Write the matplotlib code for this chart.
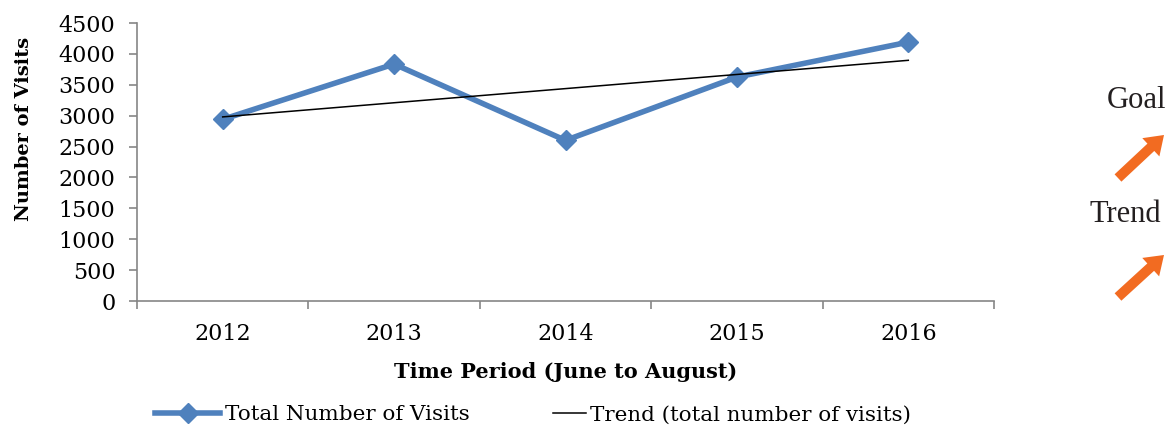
import numpy as np
import matplotlib
matplotlib.use("Agg")
import matplotlib.pyplot as plt
from matplotlib.patches import FancyArrow

years = ["2012", "2013", "2014", "2015", "2016"]
visits = [2940, 3835, 2600, 3625, 4190]

x = np.arange(len(years))
# linear trend over the total visits
slope, intercept = np.polyfit(x, visits, 1)
trend = slope * x + intercept

plt.rcParams["font.family"] = "DejaVu Serif"

fig = plt.figure(figsize=(11.68, 4.29), dpi=100)
ax = fig.add_axes([137 / 1168, 1 - 301 / 429, (994 - 137) / 1168, (301 - 23) / 429])

blue = "#4F81BD"
axis_gray = "#868686"

l1, = ax.plot(x, visits, color=blue, linewidth=4, marker="D", markersize=10,
              label="Total Number of Visits", zorder=3)
l2, = ax.plot(x, trend, color="black", linewidth=1.1,
              label="Trend (total number of visits)", zorder=4)

ax.set_xlim(-0.5, 4.5)
ax.set_ylim(0, 4500)
ax.set_yticks(np.arange(0, 4501, 500))
ax.set_xticks(x)
ax.set_xticklabels(years)
ax.set_xticks(np.arange(-0.5, 4.6, 1), minor=True)

for side in ["top", "right"]:
    ax.spines[side].set_visible(False)
for side in ["left", "bottom"]:
    ax.spines[side].set_color(axis_gray)
    ax.spines[side].set_linewidth(1.2)

ax.tick_params(axis="x", which="major", length=0, pad=16, labelsize=16)
ax.tick_params(axis="x", which="minor", length=5.5, width=1.2, color=axis_gray)
ax.tick_params(axis="y", length=5.5, width=1.2, color=axis_gray, pad=10, labelsize=16)

ax.set_ylabel("Number of Visits", fontweight="bold", fontsize=14)
ax.yaxis.set_label_coords(-0.121, 0.619)
ax.set_xlabel("Time Period (June to August)", fontweight="bold", fontsize=15,
              labelpad=12)

leg_font = {"family": "DejaVu Serif", "size": 15.4}
fig.legend(handles=[l1], loc="center left", bbox_to_anchor=(155 / 1168, 1 - 415 / 429),
           frameon=False, prop=leg_font, handlelength=3.05, handletextpad=0.2,
           borderpad=0, borderaxespad=0)
fig.legend(handles=[l2], loc="center left", bbox_to_anchor=(553 / 1168, 1 - 415 / 429),
           frameon=False, prop=leg_font, handlelength=1.55, handletextpad=0.2,
           borderpad=0, borderaxespad=0)

# side notes with orange arrows
fig.text(1166 / 1168, 1 - 100 / 429, "Goal", ha="right", va="center",
         fontfamily="Liberation Serif", fontsize=22, color="#231F20")
fig.text(1161 / 1168, 1 - 214 / 429, "Trend", ha="right", va="center",
         fontfamily="Liberation Serif", fontsize=22, color="#231F20")

orange = "#F26B21"
for tail, tip in [((1118, 178), (1164, 135)), ((1118, 297), (1164, 255))]:
    tx, ty = tail[0] / 100, (429 - tail[1]) / 100
    dx, dy = (tip[0] - tail[0]) / 100, -(tip[1] - tail[1]) / 100
    fig.patches.append(FancyArrow(tx, ty, dx, dy, width=0.10, head_width=0.25,
                                  head_length=0.18, length_includes_head=True,
                                  color=orange, linewidth=0,
                                  transform=fig.dpi_scale_trans, figure=fig))

fig.savefig("out.png", dpi=100)
